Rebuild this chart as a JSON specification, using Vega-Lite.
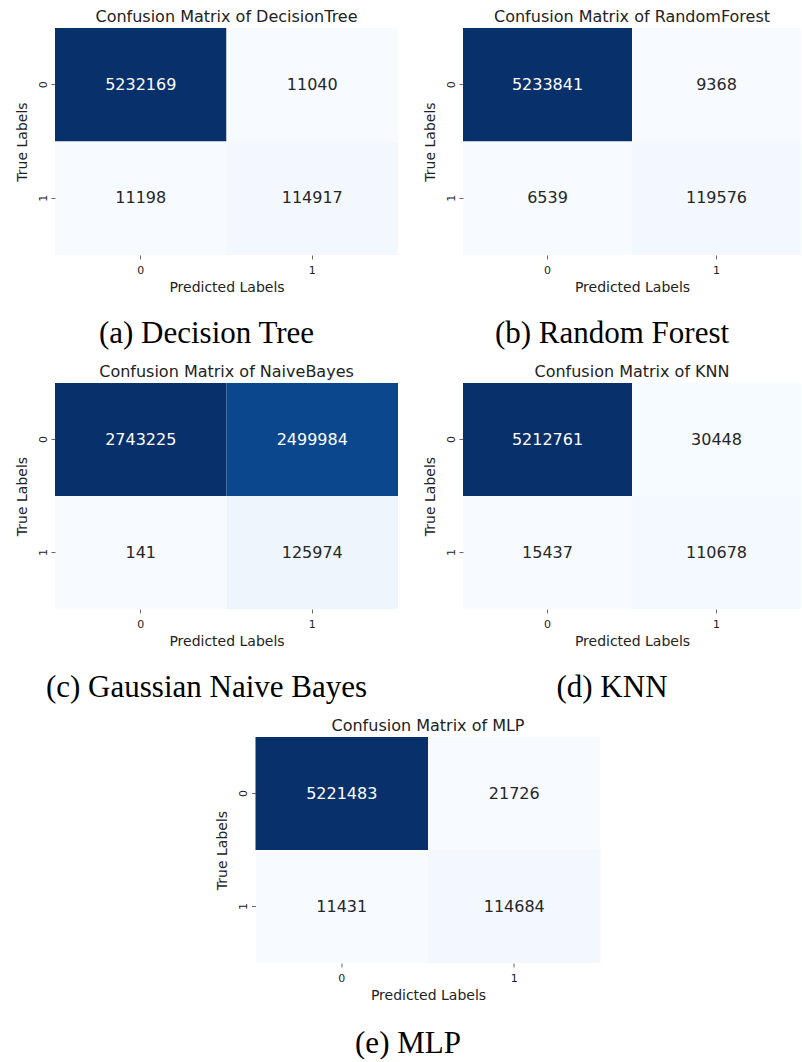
{
  "$schema": "https://vega.github.io/schema/vega-lite/v6.json",
  "padding": {"left": 15, "top": 9, "right": 0, "bottom": 0},
  "background": "white",
  "data": {"values": [
    {"model": "DecisionTree", "actual": "0", "predicted": "0", "count": 5232169},
    {"model": "DecisionTree", "actual": "0", "predicted": "1", "count": 11040},
    {"model": "DecisionTree", "actual": "1", "predicted": "0", "count": 11198},
    {"model": "DecisionTree", "actual": "1", "predicted": "1", "count": 114917},
    {"model": "RandomForest", "actual": "0", "predicted": "0", "count": 5233841},
    {"model": "RandomForest", "actual": "0", "predicted": "1", "count": 9368},
    {"model": "RandomForest", "actual": "1", "predicted": "0", "count": 6539},
    {"model": "RandomForest", "actual": "1", "predicted": "1", "count": 119576},
    {"model": "NaiveBayes", "actual": "0", "predicted": "0", "count": 2743225},
    {"model": "NaiveBayes", "actual": "0", "predicted": "1", "count": 2499984},
    {"model": "NaiveBayes", "actual": "1", "predicted": "0", "count": 141},
    {"model": "NaiveBayes", "actual": "1", "predicted": "1", "count": 125974},
    {"model": "KNN", "actual": "0", "predicted": "0", "count": 5212761},
    {"model": "KNN", "actual": "0", "predicted": "1", "count": 30448},
    {"model": "KNN", "actual": "1", "predicted": "0", "count": 15437},
    {"model": "KNN", "actual": "1", "predicted": "1", "count": 110678},
    {"model": "MLP", "actual": "0", "predicted": "0", "count": 5221483},
    {"model": "MLP", "actual": "0", "predicted": "1", "count": 21726},
    {"model": "MLP", "actual": "1", "predicted": "0", "count": 11431},
    {"model": "MLP", "actual": "1", "predicted": "1", "count": 114684}
  ]},
  "config": {
    "font": "DejaVu Sans",
    "view": {"stroke": null},
    "axis": {"domain": false, "grid": false, "tickColor": "#444444", "tickSize": 4, "tickWidth": 0.8, "labelFont": "DejaVu Sans", "labelFontSize": 11, "labelColor": "#222222", "titleFont": "DejaVu Sans", "titleFontSize": 14, "titleFontWeight": "normal", "titleColor": "#222222"}
  },
  "spacing": 15,
  "center": true,
  "resolve": {"scale": {"color": "independent"}},
  "vconcat": [
    {
      "hconcat": [
        {
          "title": {"text": "(a) Decision Tree", "orient": "bottom", "anchor": "middle", "font": "Liberation Serif", "fontSize": 31, "fontWeight": "normal", "color": "#000000", "offset": 25},
          "resolve": {"scale": {"color": "independent"}},
          "vconcat": [
            {
              "width": 343, "height": 227,
              "title": {"text": "Confusion Matrix of DecisionTree", "frame": "group", "anchor": "middle", "font": "DejaVu Sans", "fontSize": 16, "fontWeight": "normal", "color": "#222222", "offset": 3},
              "transform": [{"filter": "datum.model == 'DecisionTree'"}],
              "encoding": {
                "x": {"field": "predicted", "type": "ordinal", "scale": {"paddingInner": 0, "paddingOuter": 0}, "axis": {"title": "Predicted Labels", "labelAngle": 0, "labelPadding": 5, "titlePadding": 5}},
                "y": {"field": "actual", "type": "ordinal", "scale": {"paddingInner": 0, "paddingOuter": 0}, "axis": {"title": "True Labels", "labelAngle": -90, "labelPadding": 3, "titlePadding": 8}}
              },
              "layer": [
                {"mark": {"type": "rect"}, "encoding": {"color": {"field": "count", "type": "quantitative", "legend": null, "scale": {"zero": false, "range": ["#f7fbff", "#deebf7", "#c6dbef", "#9ecae1", "#6baed6", "#4292c6", "#2171b5", "#08519c", "#08306b"]}}}},
                {"mark": {"type": "text", "fontSize": 16, "font": "DejaVu Sans"}, "encoding": {"text": {"field": "count", "type": "quantitative", "format": "d"}, "color": {"condition": {"test": "datum.count > 1000000", "value": "#ffffff"}, "value": "#262626"}}}
              ]
            }
          ]
        },
        {
          "title": {"text": "(b) Random Forest", "orient": "bottom", "anchor": "middle", "font": "Liberation Serif", "fontSize": 31, "fontWeight": "normal", "color": "#000000", "offset": 25},
          "resolve": {"scale": {"color": "independent"}},
          "vconcat": [
            {
              "width": 338, "height": 227,
              "title": {"text": "Confusion Matrix of RandomForest", "frame": "group", "anchor": "middle", "font": "DejaVu Sans", "fontSize": 16, "fontWeight": "normal", "color": "#222222", "offset": 3},
              "transform": [{"filter": "datum.model == 'RandomForest'"}],
              "encoding": {
                "x": {"field": "predicted", "type": "ordinal", "scale": {"paddingInner": 0, "paddingOuter": 0}, "axis": {"title": "Predicted Labels", "labelAngle": 0, "labelPadding": 5, "titlePadding": 5}},
                "y": {"field": "actual", "type": "ordinal", "scale": {"paddingInner": 0, "paddingOuter": 0}, "axis": {"title": "True Labels", "labelAngle": -90, "labelPadding": 3, "titlePadding": 8}}
              },
              "layer": [
                {"mark": {"type": "rect"}, "encoding": {"color": {"field": "count", "type": "quantitative", "legend": null, "scale": {"zero": false, "range": ["#f7fbff", "#deebf7", "#c6dbef", "#9ecae1", "#6baed6", "#4292c6", "#2171b5", "#08519c", "#08306b"]}}}},
                {"mark": {"type": "text", "fontSize": 16, "font": "DejaVu Sans"}, "encoding": {"text": {"field": "count", "type": "quantitative", "format": "d"}, "color": {"condition": {"test": "datum.count > 1000000", "value": "#ffffff"}, "value": "#262626"}}}
              ]
            }
          ]
        }
      ],
      "spacing": 25,
      "align": "none",
      "resolve": {"scale": {"color": "independent"}}
    },
    {
      "hconcat": [
        {
          "title": {"text": "(c) Gaussian Naive Bayes", "orient": "bottom", "anchor": "middle", "font": "Liberation Serif", "fontSize": 31, "fontWeight": "normal", "color": "#000000", "offset": 25},
          "resolve": {"scale": {"color": "independent"}},
          "vconcat": [
            {
              "width": 343, "height": 226,
              "title": {"text": "Confusion Matrix of NaiveBayes", "frame": "group", "anchor": "middle", "font": "DejaVu Sans", "fontSize": 16, "fontWeight": "normal", "color": "#222222", "offset": 3},
              "transform": [{"filter": "datum.model == 'NaiveBayes'"}],
              "encoding": {
                "x": {"field": "predicted", "type": "ordinal", "scale": {"paddingInner": 0, "paddingOuter": 0}, "axis": {"title": "Predicted Labels", "labelAngle": 0, "labelPadding": 5, "titlePadding": 5}},
                "y": {"field": "actual", "type": "ordinal", "scale": {"paddingInner": 0, "paddingOuter": 0}, "axis": {"title": "True Labels", "labelAngle": -90, "labelPadding": 3, "titlePadding": 8}}
              },
              "layer": [
                {"mark": {"type": "rect"}, "encoding": {"color": {"field": "count", "type": "quantitative", "legend": null, "scale": {"zero": false, "range": ["#f7fbff", "#deebf7", "#c6dbef", "#9ecae1", "#6baed6", "#4292c6", "#2171b5", "#08519c", "#08306b"]}}}},
                {"mark": {"type": "text", "fontSize": 16, "font": "DejaVu Sans"}, "encoding": {"text": {"field": "count", "type": "quantitative", "format": "d"}, "color": {"condition": {"test": "datum.count > 1000000", "value": "#ffffff"}, "value": "#262626"}}}
              ]
            }
          ]
        },
        {
          "title": {"text": "(d) KNN", "orient": "bottom", "anchor": "middle", "font": "Liberation Serif", "fontSize": 31, "fontWeight": "normal", "color": "#000000", "offset": 25},
          "resolve": {"scale": {"color": "independent"}},
          "vconcat": [
            {
              "width": 338, "height": 226,
              "title": {"text": "Confusion Matrix of KNN", "frame": "group", "anchor": "middle", "font": "DejaVu Sans", "fontSize": 16, "fontWeight": "normal", "color": "#222222", "offset": 3},
              "transform": [{"filter": "datum.model == 'KNN'"}],
              "encoding": {
                "x": {"field": "predicted", "type": "ordinal", "scale": {"paddingInner": 0, "paddingOuter": 0}, "axis": {"title": "Predicted Labels", "labelAngle": 0, "labelPadding": 5, "titlePadding": 5}},
                "y": {"field": "actual", "type": "ordinal", "scale": {"paddingInner": 0, "paddingOuter": 0}, "axis": {"title": "True Labels", "labelAngle": -90, "labelPadding": 3, "titlePadding": 8}}
              },
              "layer": [
                {"mark": {"type": "rect"}, "encoding": {"color": {"field": "count", "type": "quantitative", "legend": null, "scale": {"zero": false, "range": ["#f7fbff", "#deebf7", "#c6dbef", "#9ecae1", "#6baed6", "#4292c6", "#2171b5", "#08519c", "#08306b"]}}}},
                {"mark": {"type": "text", "fontSize": 16, "font": "DejaVu Sans"}, "encoding": {"text": {"field": "count", "type": "quantitative", "format": "d"}, "color": {"condition": {"test": "datum.count > 1000000", "value": "#ffffff"}, "value": "#262626"}}}
              ]
            }
          ]
        }
      ],
      "spacing": 25,
      "align": "none",
      "resolve": {"scale": {"color": "independent"}}
    },
    {
      "title": {"text": "(e) MLP", "orient": "bottom", "anchor": "middle", "font": "Liberation Serif", "fontSize": 31, "fontWeight": "normal", "color": "#000000", "offset": 27},
      "resolve": {"scale": {"color": "independent"}},
      "vconcat": [
        {
          "width": 345, "height": 226,
          "title": {"text": "Confusion Matrix of MLP", "frame": "group", "anchor": "middle", "font": "DejaVu Sans", "fontSize": 16, "fontWeight": "normal", "color": "#222222", "offset": 3},
          "transform": [{"filter": "datum.model == 'MLP'"}],
          "encoding": {
            "x": {"field": "predicted", "type": "ordinal", "scale": {"paddingInner": 0, "paddingOuter": 0}, "axis": {"title": "Predicted Labels", "labelAngle": 0, "labelPadding": 5, "titlePadding": 5}},
            "y": {"field": "actual", "type": "ordinal", "scale": {"paddingInner": 0, "paddingOuter": 0}, "axis": {"title": "True Labels", "labelAngle": -90, "labelPadding": 3, "titlePadding": 8}}
          },
          "layer": [
            {"mark": {"type": "rect"}, "encoding": {"color": {"field": "count", "type": "quantitative", "legend": null, "scale": {"zero": false, "range": ["#f7fbff", "#deebf7", "#c6dbef", "#9ecae1", "#6baed6", "#4292c6", "#2171b5", "#08519c", "#08306b"]}}}},
            {"mark": {"type": "text", "fontSize": 16, "font": "DejaVu Sans"}, "encoding": {"text": {"field": "count", "type": "quantitative", "format": "d"}, "color": {"condition": {"test": "datum.count > 1000000", "value": "#ffffff"}, "value": "#262626"}}}
          ]
        }
      ]
    }
  ]
}
